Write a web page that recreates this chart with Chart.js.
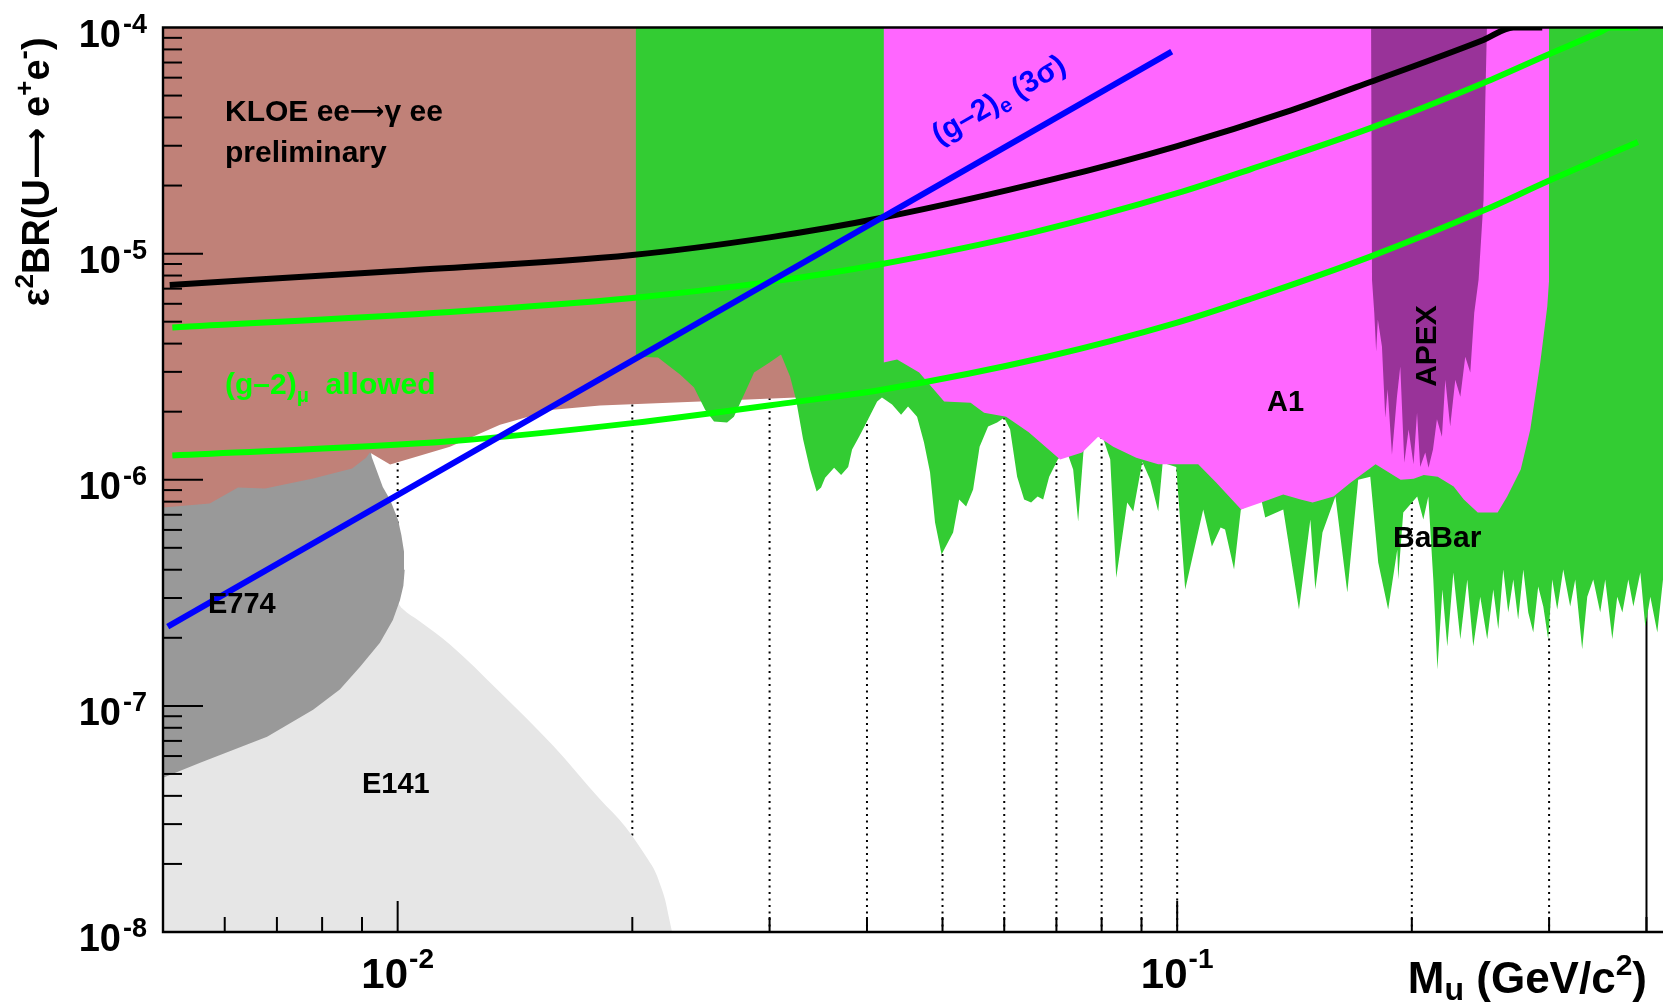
<!DOCTYPE html>
<html>
<head>
<meta charset="utf-8">
<script src="https://cdn.jsdelivr.net/npm/chart.js@4.4.0/dist/chart.umd.min.js"></script>
<style>
  html, body { margin: 0; padding: 0; background: #fff; }
  #wrap { width: 1669px; height: 1005px; position: relative; }
</style>
</head>
<body>
<div id="wrap"><canvas id="c"></canvas></div>
<script>
// ---- exclusion limits on eps^2 * BR(U -> e+e-) versus U-boson mass (GeV/c^2) ----

// BaBar (lower edge of excluded region)
const babarMass = [
  0.0202,0.02158,0.02216,0.02303,0.0240,0.0248,0.02546,0.02646,0.0270,0.02774,
  0.02866,0.0300,0.03103,0.03187,0.03244,0.03312,0.03381,0.03447,0.03493,0.03535,
  0.0363,0.03706,0.03784,0.03828,0.03908,0.04014,0.04122,0.04181,0.04308,0.04424,
  0.04516,0.04638,0.04734,0.04819,0.04891,0.04986,0.05159,0.05252,0.05361,0.05473,
  0.05579,0.05721,0.05875,0.05998,0.06105,0.06233,0.06363,0.06496,0.06622,0.06731,
  0.06852,0.07028,0.07204,0.07355,0.07464,0.07598,0.07966,0.08206,0.08353,0.08628,
  0.08783,0.09021,0.09235,0.09456,0.09581,0.09972,0.1024,0.1080,0.1108,0.1137,
  0.1152,0.1183,0.1207,0.1282,0.1297,0.1368,0.1433,0.1482,0.1504,0.1536,
  0.1596,0.1653,0.1707,0.1769,0.1811,0.1865,0.1916,0.1921,0.1950,0.2032,
  0.2069,0.2100,0.2131,0.2157,0.2189,0.2221,0.2261,0.2308,0.2356,0.2398,
  0.2448,0.2499,0.2544,0.2582,0.2620,0.2659,0.2699,0.2738,0.2780,0.2821,
  0.2863,0.2905,0.2949,0.2992,0.3028,0.3073,0.3128,0.3193,0.3241,0.3308,
  0.3358,0.3418,0.3489,0.3541,0.3616,0.3669,0.3725,0.3791,0.3848,0.3928,
  0.3986,0.4046,0.4130,0.42
];
const babarLimit = [
  3.50e-6,3.47e-6,3.23e-6,2.92e-6,2.56e-6,2.04e-6,1.81e-6,1.79e-6,1.90e-6,2.33e-6,
  2.98e-6,3.30e-6,3.58e-6,2.86e-6,2.26e-6,1.51e-6,1.11e-6,8.87e-7,9.24e-7,1.02e-6,
  1.13e-6,1.05e-6,1.14e-6,1.36e-6,1.55e-6,1.85e-6,2.22e-6,2.31e-6,2.15e-6,1.94e-6,
  2.11e-6,1.90e-6,1.46e-6,1.08e-6,6.47e-7,4.67e-7,5.84e-7,8.18e-7,7.61e-7,9.05e-7,
  1.40e-6,1.72e-6,1.79e-6,1.88e-6,1.67e-6,1.03e-6,8.18e-7,7.93e-7,8.43e-7,8.18e-7,
  1.03e-6,1.23e-6,1.36e-6,1.11e-6,6.53e-7,1.46e-6,1.67e-6,1.23e-6,3.69e-7,7.93e-7,
  7.23e-7,1.20e-6,1.00e-6,7.23e-7,1.19e-6,1.14e-6,3.27e-7,7.38e-7,5.07e-7,6.15e-7,
  6.02e-7,4.01e-7,7.38e-7,8.18e-7,6.81e-7,7.38e-7,2.67e-7,6.67e-7,3.27e-7,5.84e-7,
  8.43e-7,3.17e-7,1.00e-6,1.03e-6,4.31e-7,2.67e-7,4.91e-7,3.62e-7,7.16e-7,8.43e-7,
  6.67e-7,8.43e-7,3.62e-7,1.45e-7,3.27e-7,1.83e-7,3.89e-7,1.97e-7,3.62e-7,1.83e-7,
  3.04e-7,1.97e-7,3.27e-7,2.18e-7,4.01e-7,2.59e-7,3.62e-7,2.41e-7,4.01e-7,2.59e-7,
  2.11e-7,3.37e-7,2.75e-7,1.97e-7,3.62e-7,2.67e-7,4.01e-7,2.75e-7,3.62e-7,1.78e-7,
  3.04e-7,3.62e-7,2.59e-7,3.62e-7,1.97e-7,3.04e-7,2.59e-7,3.62e-7,2.75e-7,3.89e-7,
  2.24e-7,3.04e-7,2.11e-7,3.62e-7
];

// A1 (MAMI)
const a1Mass = [
  0.04201,0.04372,0.04667,0.05024,0.05433,0.05653,0.06034,0.0645,0.07077,0.07552,
  0.07918,0.08279,0.0886,0.09456,0.1064,0.1122,0.1208,0.1282,0.1368,0.1440,
  0.1492,0.1587,0.1670,0.1797,0.1935,0.2011,0.2072,0.2159,0.2263,0.2332,
  0.2430,0.2577,0.2651,0.2759,0.2838,0.2923,0.2984,0.3000,0.3000
];
const a1Limit = [
  3.30e-6,3.40e-6,2.98e-6,2.22e-6,2.19e-6,1.98e-6,1.90e-6,1.62e-6,1.23e-6,1.32e-6,
  1.55e-6,1.40e-6,1.25e-6,1.17e-6,1.17e-6,9.72e-7,7.38e-7,7.93e-7,8.60e-7,8.18e-7,
  7.93e-7,8.43e-7,9.72e-7,1.17e-6,1.00e-6,1.01e-6,1.05e-6,1.03e-6,9.33e-7,8.18e-7,
  7.16e-7,7.16e-7,8.43e-7,1.11e-6,1.67e-6,3.30e-6,5.83e-6,7.67e-6,1e-4
];

// APEX test run
const apexMass = [
  0.1773,0.1778,0.1790,0.1800,0.1809,0.1831,0.1849,0.1862,0.1886,0.1914,
  0.1933,0.1956,0.1981,0.2010,0.2031,0.2050,0.2081,0.2101,0.2129,0.2154,
  0.2186,0.2208,0.2240,0.2274,0.2308,0.2342,0.2377,0.2405,0.2436,0.2472,
  0.2485,0.2497
];
const apexLimit = [
  1e-4,7.67e-6,5.48e-6,3.69e-6,5.11e-6,3.88e-6,1.88e-6,2.51e-6,1.29e-6,2.33e-6,
  3.17e-6,1.19e-6,1.67e-6,1.17e-6,1.98e-6,1.14e-6,1.32e-6,1.13e-6,1.36e-6,1.85e-6,
  1.55e-6,2.77e-6,1.72e-6,2.77e-6,2.33e-6,3.50e-6,2.98e-6,5.48e-6,7.67e-6,1.73e-5,
  4.80e-5,1e-4
];

// KLOE ee -> gamma ee (preliminary)
const kloeMass  = [0.005,0.00574,0.00624,0.00676,0.00779,0.00874,0.00911,0.00921,0.00978,0.01167,0.01353,0.01582,0.01818,0.02443,0.03244,0.0418];
const kloeLimit = [7.54e-7,7.85e-7,9.24e-7,9.14e-7,1.012e-6,1.12e-6,1.25e-6,1.32e-6,1.167e-6,1.40e-6,1.75e-6,2.04e-6,2.13e-6,2.22e-6,2.31e-6,2.36e-6];

// E774 beam dump (closed contour)
const e774Mass  = [0.005,0.00558,0.0068,0.00779,0.00843,0.00895,0.00949,0.00986,0.01007,0.01017,0.01021,0.01019,0.01011,0.01001,0.00978,0.00957,0.00927,0.00921,0.005];
const e774Limit = [4.81e-8,5.60e-8,7.30e-8,9.61e-8,1.18e-7,1.49e-7,1.90e-7,2.40e-7,2.94e-7,3.40e-7,4.00e-7,4.80e-7,5.70e-7,6.65e-7,8.15e-7,9.30e-7,1.25e-6,1.38e-6,1.38e-6];

// E141 beam dump (upper edge)
const e141Mass  = [0.005,0.00992,0.01013,0.01068,0.01167,0.01353,0.01582,0.01818,0.01958,0.02095,0.02142,0.02176,0.02203,0.02227,0.02249];
const e141Limit = [1.07e-7,2.95e-7,2.70e-7,2.36e-7,1.87e-7,1.15e-7,6.68e-8,3.86e-8,2.93e-8,2.09e-8,1.835e-8,1.59e-8,1.393e-8,1.172e-8,1e-8];

// black curve
const curveMass  = [0.0051,0.01,0.02,0.03,0.0418,0.07,0.1,0.14,0.1769,0.2471,0.27,0.294];
const curveValue = [7.27e-6,8.38e-6,9.87e-6,1.18e-5,1.44e-5,2.15e-5,2.99e-5,4.3e-5,5.74e-5,8.81e-5,1e-4,1e-4];

// (g-2)_mu allowed band
const gmUpperMass  = [0.00514,0.01167,0.02,0.03,0.0418,0.065,0.1,0.1241,0.1769,0.2471,0.2983,0.349,0.3595,0.3904];
const gmUpperValue = [4.71e-6,5.52e-6,6.37e-6,7.5e-6,9.0e-6,1.236e-5,1.85e-5,2.36e-5,3.59e-5,5.68e-5,7.56e-5,9.55e-5,1e-4,1e-4];
const gmLowerMass  = [0.00514,0.01167,0.02,0.0324,0.0418,0.0679,0.1,0.1241,0.1769,0.2471,0.2997,0.39];
const gmLowerValue = [1.28e-6,1.48e-6,1.78e-6,2.21e-6,2.50e-6,3.49e-6,4.95e-6,6.3e-6,9.7e-6,1.55e-5,2.1e-5,3.12e-5];

// (g-2)_e 3 sigma line
const geMass  = [0.00507, 0.0984];
const geValue = [2.24e-7, 7.82e-5];

// axis ticks
const xGridValues = [0.006,0.007,0.008,0.009,0.01,0.02,0.03,0.04,0.05,0.06,0.07,0.08,0.09,0.1,0.2,0.3,0.4];
const xMajorValues = [0.01, 0.1];
const xLabelExp = [-2, -1];
const yLabelExp = [-8, -7, -6, -5, -4];

// ---------------------------------------------------------------------
const FONT = '"Liberation Sans", Arial, Helvetica, sans-serif';
const ARROW_FONT = '"DejaVu Sans", sans-serif';
const pts = (xs, ys) => xs.map((x, i) => ({x, y: ys[i]}));

// draws a run of text pieces: [text, size, dy, family, gapBefore]
function rich(ctx, parts, x, y, align) {
  const fontOf = p => `bold ${p[1]}px ${p[3] || FONT}`;
  const widths = parts.map(p => { ctx.font = fontOf(p); return ctx.measureText(p[0]).width + (p[4] || 0); });
  const total = widths.reduce((s, w) => s + w, 0);
  let cx = align === 'right' ? x - total : align === 'center' ? x - total / 2 : x;
  parts.forEach((p, i) => {
    ctx.font = fontOf(p);
    ctx.fillText(p[0], cx + (p[4] || 0), y + (p[2] || 0));
    cx += widths[i];
  });
}

const region = (label, data, color, fill, order, smooth) => ({
  label, data, showLine: true, fill, order,
  backgroundColor: color, borderColor: 'rgba(0,0,0,0)', borderWidth: 0,
  pointRadius: 0, tension: 0,
  cubicInterpolationMode: smooth ? 'monotone' : 'default'
});
const curve = (label, data, color, width, order) => ({
  label, data, showLine: true, fill: false, order,
  borderColor: color, borderWidth: width, pointRadius: 0,
  cubicInterpolationMode: 'monotone', borderCapStyle: 'butt'
});

const axesPlugin = {
  id: 'axesPlugin',
  beforeDatasetsDraw(chart) {
    const {ctx, chartArea: a, scales: {x}} = chart;
    ctx.save();
    ctx.strokeStyle = '#000';
    xGridValues.forEach(v => {
      if (v < 0.01) return;
      const px = x.getPixelForValue(v);
      ctx.lineWidth = 2;
      ctx.setLineDash(v === 0.4 ? [] : [2, 4.5]);
      ctx.beginPath(); ctx.moveTo(px, a.top); ctx.lineTo(px, a.bottom); ctx.stroke();
    });
    ctx.restore();
  },
  afterDatasetsDraw(chart) {
    const {ctx, chartArea: a, scales: {x, y}} = chart;
    ctx.save();
    ctx.strokeStyle = '#000';
    ctx.fillStyle = '#000';
    ctx.setLineDash([]);
    // frame
    ctx.lineWidth = 2.4;
    ctx.beginPath();
    ctx.moveTo(a.right, a.top); ctx.lineTo(a.left, a.top);
    ctx.lineTo(a.left, a.bottom); ctx.lineTo(a.right, a.bottom);
    ctx.stroke();
    // y ticks (inside)
    ctx.lineWidth = 2;
    for (let e = -8; e < -4; e++) {
      for (let k = 1; k <= 9; k++) {
        const py = y.getPixelForValue(k * Math.pow(10, e));
        const len = k === 1 ? 40 : 19;
        ctx.beginPath(); ctx.moveTo(a.left, py); ctx.lineTo(a.left + len, py); ctx.stroke();
      }
    }
    // x ticks (inside)
    xGridValues.forEach(v => {
      const px = x.getPixelForValue(v);
      const len = xMajorValues.includes(v) ? 31 : 15;
      ctx.beginPath(); ctx.moveTo(px, a.bottom); ctx.lineTo(px, a.bottom - len); ctx.stroke();
    });
    // y labels
    ctx.textBaseline = 'alphabetic';
    yLabelExp.forEach(e => {
      const py = y.getPixelForValue(Math.pow(10, e));
      rich(ctx, [['10', 38, 0], [String(e), 27, -14, null, 2]], 147, py + 19, 'right');
    });
    // x labels
    xLabelExp.forEach(e => {
      const px = x.getPixelForValue(Math.pow(10, e));
      rich(ctx, [['10', 42, 0], [String(e), 28, -20, null, 1]], px, a.bottom + 56, 'center');
    });
    // x title
    rich(ctx, [['M', 44, 0], ['u', 32, 7], [' (GeV/c', 44, 0], ['2', 30, -18], [')', 44, 0]], 1647, 993, 'right');
    // y title
    ctx.save();
    ctx.translate(49, 172);
    ctx.rotate(-Math.PI / 2);
    rich(ctx, [['\u03B5', 38, 0], ['2', 26, -16], ['BR(U', 38, 0], ['\u27F6', 36, -1, ARROW_FONT], [' e', 38, 0],
               ['+', 26, -16], ['e', 38, 0], ['-', 28, -16], [')', 38, 0]], 0, 0, 'center');
    ctx.restore();

    // region labels
    ctx.fillStyle = '#000';
    rich(ctx, [['KLOE ee', 30, 0], ['\u27F6', 24, -2, ARROW_FONT], ['\u03B3', 30, 0], [' ee', 30, 0]], 225, 121, 'left');
    rich(ctx, [['preliminary', 30, 0]], 225, 162, 'left');
    rich(ctx, [['E774', 29, 0]], 208, 613, 'left');
    rich(ctx, [['E141', 29, 0]], 362, 793, 'left');
    rich(ctx, [['A1', 29, 0]], 1267, 411, 'left');
    rich(ctx, [['BaBar', 30, 0]], 1393, 547, 'left');
    ctx.save();
    ctx.translate(1436, 346);
    ctx.rotate(-Math.PI / 2);
    rich(ctx, [['APEX', 30, 0]], 0, 0, 'center');
    ctx.restore();
    ctx.fillStyle = '#00ff00';
    rich(ctx, [['(g\u20132)', 30, 0], ['\u03BC', 20, 8], ['  allowed', 30, 0]], 225, 394, 'left');
    ctx.fillStyle = '#0000ff';
    ctx.save();
    ctx.translate(939, 145);
    ctx.rotate(-30 * Math.PI / 180);
    rich(ctx, [['(g\u20132)', 30, 0], ['e', 21, 6], [' (3\u03C3)', 30, 0]], 0, 0, 'left');
    ctx.restore();
    ctx.restore();
  }
};

new Chart(document.getElementById('c'), {
  type: 'scatter',
  data: {
    datasets: [
      curve('(g-2)e 3 sigma', pts(geMass, geValue), '#0000ff', 6, 0),
      curve('black curve', pts(curveMass, curveValue), '#000000', 6, 1),
      curve('(g-2)mu upper', pts(gmUpperMass, gmUpperValue), '#00ff00', 6, 2),
      curve('(g-2)mu lower', pts(gmLowerMass, gmLowerValue), '#00ff00', 6, 3),
      region('APEX', pts(apexMass, apexLimit), '#993399', 'end', 4),
      region('A1', pts(a1Mass, a1Limit), '#ff66ff', 'end', 5),
      region('BaBar', pts(babarMass, babarLimit), '#33cc33', 'end', 6),
      region('KLOE', pts(kloeMass, kloeLimit), '#c08178', 'end', 7),
      region('E774', pts(e774Mass, e774Limit), '#999999', 'shape', 8),
      region('E141', pts(e141Mass, e141Limit), '#e6e6e6', 'start', 9, true)
    ]
  },
  options: {
    responsive: true,
    maintainAspectRatio: false,
    animation: false,
    layout: { padding: { left: 163, top: 27.5, right: 6, bottom: 73 } },
    plugins: { legend: { display: false }, tooltip: { enabled: false } },
    scales: {
      x: { type: 'logarithmic', min: 0.005, max: 0.42, display: false },
      y: { type: 'logarithmic', min: 1e-8, max: 1e-4, display: false }
    }
  },
  plugins: [axesPlugin]
});
</script>
</body>
</html>
